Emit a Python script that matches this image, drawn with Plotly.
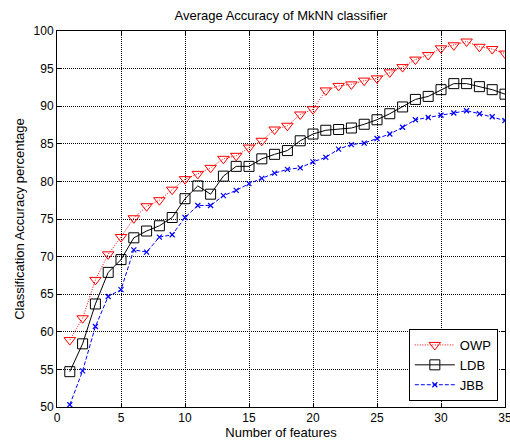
import plotly.graph_objects as go

features = list(range(1, 36))
owp = [58.9, 61.8, 66.9, 70.3, 72.6, 75.1, 76.7, 77.5, 78.9, 80.3,
       81.0, 81.8, 83.0, 83.4, 84.5, 85.4, 86.9, 87.4, 88.9, 89.6,
       92.1, 92.7, 92.9, 93.4, 93.7, 94.5, 95.2, 96.2, 96.8, 97.7,
       98.1, 98.6, 97.9, 97.6, 97.0]
ldb = [54.7, 58.4, 63.7, 67.9, 69.6, 72.5, 73.4, 74.1, 75.2, 77.7,
       79.4, 78.3, 80.7, 82.0, 82.0, 83.0, 83.6, 84.1, 85.4, 86.3,
       86.8, 86.9, 87.1, 87.6, 88.2, 89.0, 89.9, 90.9, 91.3, 92.2,
       93.0, 93.0, 92.6, 92.2, 91.6]
jbb = [50.3, 54.8, 60.7, 64.7, 65.6, 70.9, 70.6, 72.6, 72.9, 75.2,
       76.8, 76.8, 78.1, 78.8, 79.7, 80.4, 81.1, 81.6, 81.8, 82.6,
       83.2, 84.3, 84.9, 85.1, 85.7, 86.3, 87.2, 88.2, 88.5, 88.8,
       89.1, 89.4, 89.0, 88.6, 88.1]
x_ticks = [0, 5, 10, 15, 20, 25, 30, 35]
y_ticks = [50, 55, 60, 65, 70, 75, 80, 85, 90, 95, 100]

fig = go.Figure()
fig.add_trace(go.Scatter(
    x=features, y=owp, name="OWP", mode="lines+markers",
    line=dict(color="red", width=1, dash="1px,1.5px"),
    marker=dict(symbol="triangle-down-open", size=10, color="red",
                line=dict(color="red", width=1))))
fig.add_trace(go.Scatter(
    x=features, y=ldb, name="LDB", mode="lines+markers",
    line=dict(color="black", width=1),
    marker=dict(symbol="square-open", size=10, color="black",
                line=dict(color="black", width=1))))
fig.add_trace(go.Scatter(
    x=features, y=jbb, name="JBB", mode="lines+markers",
    line=dict(color="blue", width=1, dash="4px,2px"),
    marker=dict(symbol="x-thin", size=5, color="blue",
                line=dict(color="blue", width=1.2))))

font = "Liberation Sans, Arial, sans-serif"
axis_common = dict(
    showline=True, linecolor="black", linewidth=1, mirror="ticks",
    ticks="inside", ticklen=4, tickcolor="black",
    showgrid=True, gridcolor="black", gridwidth=1, griddash="1px,1px",
    zeroline=False, ticklabeloverflow="allow", automargin=False,
    tickfont=dict(family=font, size=12, color="black"),
)
fig.update_xaxes(range=[0, 35], tickvals=x_ticks,
                 title=dict(text="Number of features", standoff=3,
                            font=dict(family=font, size=13, color="black")),
                 **axis_common)
fig.update_yaxes(range=[50, 100], tickvals=y_ticks,
                 title=dict(text="Classification Accuracy percentage", standoff=6,
                            font=dict(family=font, size=13, color="black")),
                 **axis_common)

fig.update_layout(
    width=510, height=446,
    margin=dict(l=57, r=5, t=31, b=39),
    paper_bgcolor="white", plot_bgcolor="white",
    title=dict(text="Average Accuracy of MkNN classifier", x=0.551, xanchor="center",
               y=0.966, yanchor="middle",
               font=dict(family=font, size=13, color="black")),
    legend=dict(x=0.984, y=0.016, xanchor="right", yanchor="bottom",
                bgcolor="white", bordercolor="black", borderwidth=1,
                font=dict(family=font, size=13, color="black"),
                tracegroupgap=2, itemwidth=40),
    showlegend=True,
)

fig.write_html("out.html")
